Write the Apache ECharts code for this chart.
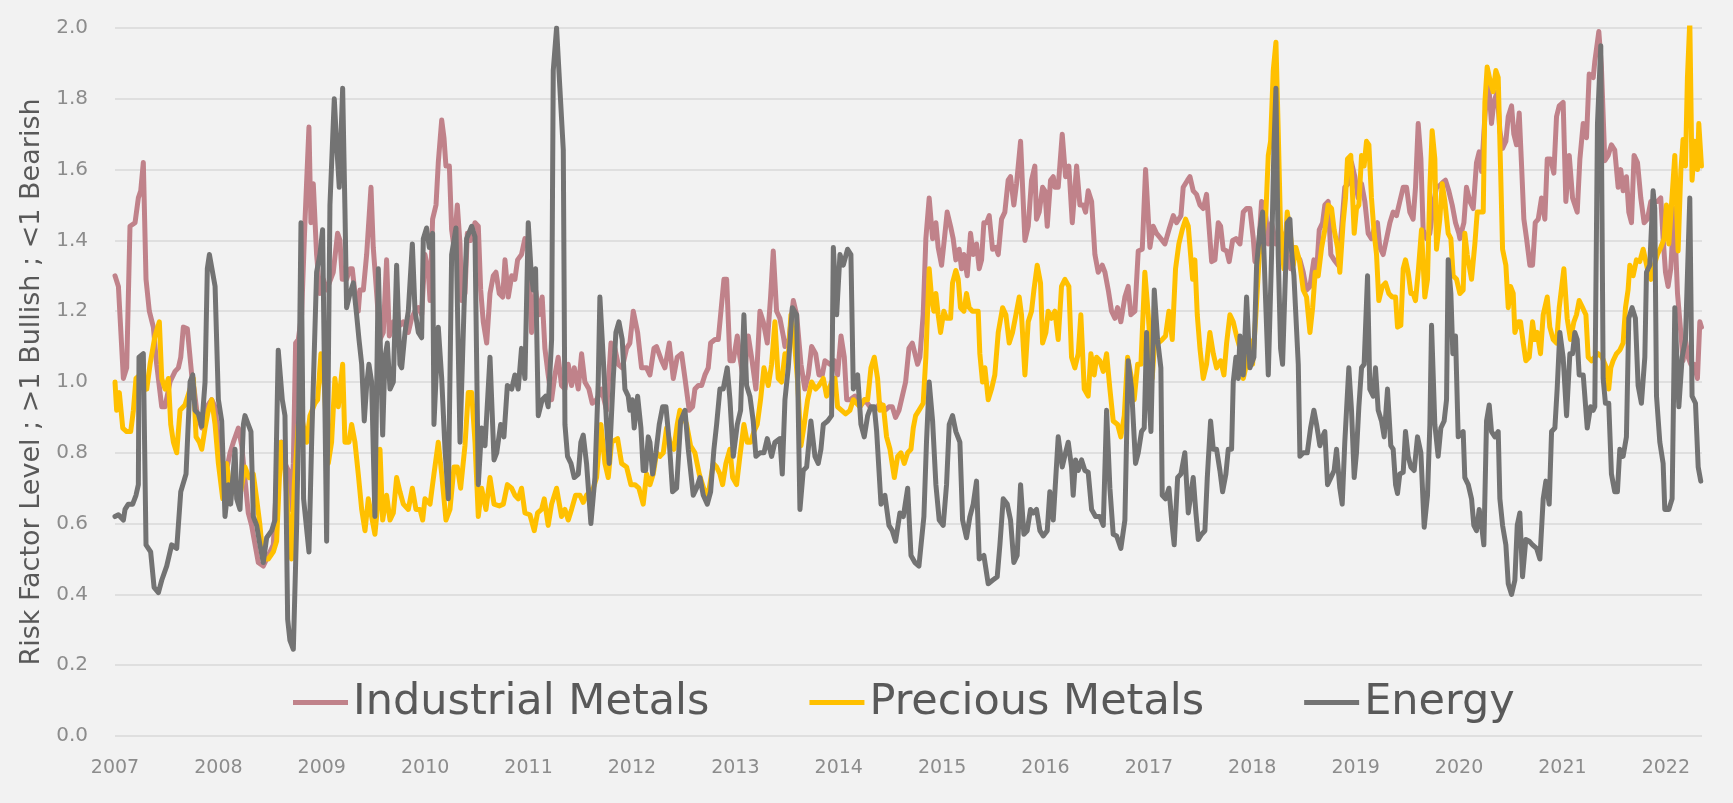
<!DOCTYPE html>
<html>
<head>
<meta charset="utf-8">
<script src="https://cdn.jsdelivr.net/npm/echarts@6/dist/echarts.min.js"></script>
<style>
  html, body { margin: 0; padding: 0; background: #f2f2f2; }
  #chart { width: 1733px; height: 803px; }
</style>
</head>
<body>
<div id="chart"></div>
<script>
// Weekly risk factor readings, [decimal year, level]
const industrialMetals = [
  [2007.000,1.30],[2007.033,1.27],[2007.081,1.01],[2007.113,1.04],[2007.145,1.44],[2007.194,1.45],[2007.226,1.52],[2007.249,1.54],[2007.274,1.62],[2007.300,1.29],[2007.332,1.20],[2007.371,1.155],[2007.403,1.05],[2007.452,0.93],[2007.484,0.93],[2007.532,1.00],[2007.581,1.03],[2007.613,1.04],[2007.636,1.07],[2007.661,1.155],[2007.700,1.15],[2007.742,1.02],[2007.765,0.98],[2007.797,0.905],[2007.839,0.87],[2007.887,0.93],[2007.935,0.95],[2007.968,0.93],[2008.016,0.79],[2008.064,0.73],[2008.113,0.80],[2008.145,0.83],[2008.193,0.87],[2008.226,0.82],
  [2008.289,0.63],[2008.321,0.595],[2008.386,0.49],[2008.434,0.48],[2008.483,0.51],[2008.531,0.54],[2008.579,0.81],[2008.612,0.83],[2008.644,0.77],[2008.676,0.75],[2008.699,0.64],[2008.725,0.77],[2008.747,1.11],[2008.773,1.12],[2008.805,1.19],[2008.837,1.45],[2008.876,1.72],[2008.895,1.45],[2008.918,1.56],[2008.950,1.36],[2008.982,1.25],[2009.015,1.29],[2009.047,1.26],[2009.111,1.31],[2009.153,1.42],[2009.176,1.40],[2009.198,1.29],[2009.240,1.29],[2009.273,1.32],[2009.295,1.32],[2009.321,1.25],[2009.353,1.20],[2009.369,1.26],[2009.402,1.26],[2009.434,1.36],[2009.476,1.55],[2009.498,1.38],[2009.521,1.29],
  [2009.563,1.12],[2009.595,1.14],[2009.627,1.345],[2009.653,1.13],[2009.692,1.17],[2009.740,1.155],[2009.789,1.17],[2009.837,1.14],[2009.869,1.18],[2009.902,1.20],[2009.934,1.21],[2009.966,1.19],[2009.998,1.36],[2010.031,1.31],[2010.047,1.23],[2010.072,1.46],[2010.105,1.50],[2010.127,1.62],[2010.160,1.74],[2010.182,1.69],[2010.201,1.61],[2010.234,1.61],[2010.256,1.43],[2010.279,1.38],[2010.311,1.50],[2010.337,1.39],[2010.353,1.23],[2010.385,1.25],[2010.408,1.42],[2010.440,1.40],[2010.482,1.45],[2010.514,1.44],[2010.537,1.26],[2010.562,1.17],[2010.595,1.11],[2010.627,1.25],[2010.659,1.30],[2010.685,1.31],[2010.717,1.25],[2010.750,1.24],[2010.772,1.345],[2010.804,1.24],[2010.837,1.30],
  [2010.868,1.29],[2010.894,1.345],[2010.932,1.36],[2010.965,1.405],[2010.997,1.38],[2011.029,1.14],[2011.068,1.26],[2011.100,1.19],[2011.132,1.24],[2011.158,1.095],[2011.190,1.02],[2011.223,0.95],[2011.255,1.02],[2011.287,1.07],[2011.319,0.99],[2011.352,0.98],[2011.384,1.05],[2011.416,0.99],[2011.442,1.04],[2011.481,0.98],[2011.513,1.08],[2011.545,1.00],[2011.584,0.98],[2011.616,0.94],[2011.658,0.95],[2011.706,0.98],[2011.755,0.92],[2011.797,1.11],[2011.835,1.095],[2011.867,1.05],[2011.906,1.04],[2011.948,1.095],[2011.980,1.11],[2012.013,1.20],[2012.055,1.14],[2012.093,1.04],[2012.142,1.04],
  [2012.174,1.02],[2012.213,1.095],[2012.238,1.10],[2012.287,1.06],[2012.319,1.04],[2012.361,1.11],[2012.400,1.01],[2012.438,1.07],[2012.480,1.08],[2012.513,1.01],[2012.554,0.92],[2012.587,0.93],[2012.609,0.98],[2012.642,0.99],[2012.674,0.99],[2012.706,1.02],[2012.738,1.04],[2012.761,1.11],[2012.803,1.12],[2012.835,1.12],[2012.861,1.20],[2012.890,1.29],[2012.916,1.29],[2012.948,1.06],[2012.980,1.06],[2013.019,1.13],[2013.044,1.07],[2013.083,1.00],[2013.125,1.13],[2013.157,1.07],[2013.199,0.98],[2013.238,1.20],[2013.270,1.17],[2013.309,1.11],[2013.341,1.24],[2013.367,1.37],[2013.399,1.20],[2013.431,1.18],[2013.464,1.13],
  [2013.480,1.10],[2013.519,1.12],[2013.561,1.23],[2013.593,1.19],[2013.635,1.05],[2013.673,0.98],[2013.706,1.02],[2013.738,1.10],[2013.777,1.08],[2013.809,1.02],[2013.841,1.02],[2013.867,1.06],[2013.915,1.05],[2013.957,1.06],[2013.989,1.02],[2014.022,1.13],[2014.054,1.07],[2014.077,0.95],[2014.109,0.95],[2014.157,0.96],[2014.205,0.93],[2014.254,0.95],[2014.302,0.93],[2014.350,0.92],[2014.399,0.94],[2014.447,0.92],[2014.486,0.93],[2014.518,0.93],[2014.550,0.90],[2014.583,0.92],[2014.615,0.96],[2014.647,1.00],[2014.679,1.095],[2014.712,1.11],[2014.763,1.05],
  [2014.785,1.07],[2014.817,1.19],[2014.843,1.405],[2014.875,1.52],[2014.908,1.405],[2014.940,1.45],[2014.962,1.38],[2014.995,1.33],[2015.017,1.39],[2015.049,1.48],[2015.082,1.44],[2015.107,1.405],[2015.133,1.345],[2015.165,1.375],[2015.188,1.32],[2015.211,1.36],[2015.243,1.30],[2015.275,1.42],[2015.301,1.36],[2015.333,1.39],[2015.359,1.32],[2015.382,1.345],[2015.404,1.45],[2015.430,1.45],[2015.456,1.47],[2015.488,1.375],[2015.520,1.38],[2015.543,1.36],[2015.575,1.46],[2015.607,1.48],[2015.639,1.57],[2015.662,1.58],[2015.694,1.50],[2015.720,1.56],[2015.759,1.68],[2015.801,1.40],[2015.833,1.44],[2015.865,1.57],[2015.897,1.61],[2015.913,1.46],[2015.939,1.48],[2015.972,1.55],[2015.994,1.54],[2016.017,1.44],[2016.049,1.57],[2016.075,1.58],
  [2016.091,1.55],[2016.123,1.55],[2016.162,1.70],[2016.194,1.58],[2016.226,1.61],[2016.259,1.45],[2016.301,1.61],[2016.333,1.50],[2016.365,1.50],[2016.388,1.48],[2016.413,1.54],[2016.446,1.51],[2016.478,1.36],[2016.510,1.31],[2016.549,1.33],[2016.575,1.31],[2016.607,1.26],[2016.639,1.20],[2016.671,1.18],[2016.697,1.21],[2016.729,1.17],[2016.768,1.24],[2016.800,1.27],[2016.826,1.19],[2016.865,1.20],[2016.897,1.37],[2016.936,1.375],[2016.968,1.60],[2017.010,1.38],[2017.042,1.44],[2017.074,1.42],[2017.116,1.405],[2017.155,1.39],[2017.194,1.43],[2017.236,1.47],[2017.268,1.45],[2017.310,1.47],[2017.332,1.55],[2017.374,1.57],
  [2017.397,1.58],[2017.429,1.54],[2017.461,1.53],[2017.494,1.50],[2017.526,1.49],[2017.558,1.53],[2017.584,1.43],[2017.607,1.34],[2017.639,1.345],[2017.671,1.45],[2017.694,1.44],[2017.719,1.375],[2017.752,1.37],[2017.777,1.34],[2017.810,1.40],[2017.842,1.405],[2017.881,1.39],[2017.913,1.48],[2017.945,1.49],[2017.977,1.49],[2018.010,1.405],[2018.026,1.34],[2018.058,1.36],[2018.090,1.51],[2018.122,1.50],[2018.155,1.39],[2018.187,1.45],[2018.229,1.39],[2018.268,1.43],[2018.306,1.405],[2018.338,1.36],[2018.371,1.32],[2018.403,1.38],[2018.429,1.36],[2018.461,1.345],[2018.493,1.31],[2018.525,1.26],[2018.558,1.27],[2018.596,1.345],[2018.622,1.31],[2018.648,1.43],[2018.680,1.45],
  [2018.702,1.50],[2018.734,1.51],[2018.760,1.36],[2018.792,1.345],[2018.831,1.33],[2018.863,1.43],[2018.895,1.55],[2018.928,1.56],[2018.960,1.62],[2018.992,1.58],[2019.024,1.52],[2019.057,1.56],[2019.089,1.51],[2019.121,1.42],[2019.153,1.405],[2019.186,1.44],[2019.211,1.45],[2019.234,1.38],[2019.266,1.36],[2019.299,1.405],[2019.331,1.45],[2019.363,1.48],[2019.395,1.47],[2019.427,1.51],[2019.460,1.55],[2019.492,1.55],[2019.524,1.48],[2019.556,1.46],[2019.579,1.55],[2019.605,1.73],[2019.631,1.63],[2019.653,1.43],[2019.685,1.405],[2019.718,1.42],[2019.750,1.50],[2019.782,1.55],[2019.814,1.555],[2019.847,1.565],[2019.869,1.57],[2019.901,1.54],[2019.934,1.50],[2019.966,1.45],[2019.998,1.42],
  [2020.008,1.405],[2020.047,1.45],[2020.072,1.55],[2020.105,1.51],[2020.137,1.49],[2020.169,1.62],[2020.195,1.65],[2020.218,1.595],[2020.250,1.75],[2020.282,1.86],[2020.314,1.73],[2020.337,1.79],[2020.369,1.82],[2020.395,1.71],[2020.421,1.66],[2020.453,1.68],[2020.476,1.75],[2020.508,1.78],[2020.530,1.70],[2020.556,1.67],[2020.582,1.76],[2020.605,1.61],[2020.627,1.46],[2020.653,1.405],[2020.685,1.33],[2020.711,1.33],[2020.737,1.45],[2020.766,1.46],[2020.798,1.52],[2020.830,1.46],[2020.853,1.63],[2020.885,1.63],[2020.917,1.59],[2020.943,1.75],[2020.969,1.78],[2021.007,1.79],[2021.033,1.51],[2021.066,1.64],[2021.098,1.52],[2021.143,1.48],[2021.169,1.63],[2021.201,1.73],[2021.233,1.69],[2021.259,1.87],[2021.298,1.86],
  [2021.313,1.905],[2021.352,1.99],[2021.377,1.89],[2021.410,1.625],[2021.442,1.64],[2021.474,1.67],[2021.506,1.655],[2021.539,1.55],[2021.564,1.60],[2021.587,1.54],[2021.619,1.58],[2021.642,1.48],[2021.668,1.45],[2021.693,1.64],[2021.726,1.62],[2021.758,1.52],[2021.790,1.45],[2021.822,1.46],[2021.855,1.51],[2021.887,1.51],[2021.919,1.51],[2021.951,1.52],[2021.974,1.405],[2021.997,1.31],[2022.022,1.27],[2022.048,1.32],[2022.080,1.49],[2022.113,1.25],[2022.145,1.14],[2022.167,1.06],[2022.190,1.12],[2022.216,1.07],[2022.242,1.05],[2022.274,1.05],[2022.306,1.01],[2022.329,1.17],[2022.345,1.155]
];

const preciousMetals = [
  [2007.000,1.00],[2007.016,0.92],[2007.042,0.97],[2007.075,0.87],[2007.113,0.86],[2007.152,0.86],[2007.178,0.92],[2007.203,1.01],[2007.242,1.02],[2007.307,0.98],[2007.339,1.05],[2007.387,1.13],[2007.429,1.17],[2007.452,1.01],[2007.484,0.98],[2007.516,1.01],[2007.539,0.88],[2007.565,0.83],[2007.597,0.80],[2007.629,0.92],[2007.677,0.935],[2007.726,0.98],[2007.758,1.01],[2007.784,0.845],[2007.816,0.83],[2007.839,0.81],[2007.871,0.87],[2007.903,0.92],[2007.935,0.95],[2007.968,0.88],[2008.000,0.77],[2008.042,0.67],[2008.080,0.77],[2008.119,0.68],[2008.161,0.73],[2008.209,0.68],
  [2008.257,0.76],[2008.296,0.73],[2008.338,0.74],[2008.370,0.67],[2008.402,0.595],[2008.434,0.50],[2008.483,0.50],[2008.531,0.52],[2008.563,0.55],[2008.579,0.655],[2008.605,0.83],[2008.644,0.75],[2008.676,0.62],[2008.708,0.50],[2008.734,0.71],[2008.773,0.88],[2008.812,0.89],[2008.854,0.83],[2008.886,0.905],[2008.934,0.94],[2008.960,0.95],[2008.992,1.08],[2009.024,0.99],[2009.063,0.77],[2009.095,0.83],[2009.127,1.01],[2009.160,0.93],[2009.202,1.05],[2009.224,0.83],[2009.263,0.83],[2009.289,0.88],[2009.321,0.83],[2009.353,0.74],[2009.386,0.64],[2009.418,0.58],[2009.450,0.67],[2009.482,0.62],[2009.514,0.57],[2009.547,0.67],
  [2009.563,0.81],[2009.589,0.61],[2009.627,0.68],[2009.660,0.61],[2009.692,0.63],[2009.724,0.73],[2009.756,0.69],[2009.789,0.655],[2009.837,0.64],[2009.876,0.70],[2009.911,0.64],[2009.950,0.64],[2009.976,0.61],[2009.998,0.67],[2010.047,0.655],[2010.085,0.74],[2010.127,0.83],[2010.160,0.74],[2010.201,0.61],[2010.240,0.64],[2010.279,0.76],[2010.311,0.76],[2010.343,0.70],[2010.385,0.82],[2010.417,0.97],[2010.450,0.97],[2010.482,0.83],[2010.514,0.62],[2010.546,0.70],[2010.588,0.64],[2010.627,0.73],[2010.666,0.655],[2010.717,0.65],[2010.756,0.655],[2010.795,0.71],[2010.837,0.70],
  [2010.868,0.68],[2010.900,0.67],[2010.932,0.70],[2010.965,0.63],[2011.013,0.625],[2011.055,0.58],[2011.087,0.63],[2011.126,0.64],[2011.152,0.67],[2011.190,0.595],[2011.223,0.655],[2011.271,0.70],[2011.319,0.62],[2011.352,0.64],[2011.384,0.61],[2011.416,0.64],[2011.455,0.68],[2011.497,0.68],[2011.529,0.66],[2011.561,0.68],[2011.626,0.70],[2011.658,0.73],[2011.700,0.88],[2011.739,0.77],[2011.771,0.73],[2011.803,0.83],[2011.861,0.84],[2011.900,0.77],[2011.948,0.76],[2011.990,0.71],[2012.029,0.71],[2012.067,0.70],[2012.109,0.655],[2012.142,0.74],
  [2012.174,0.71],[2012.206,0.74],[2012.238,0.80],[2012.271,0.79],[2012.303,0.80],[2012.335,0.87],[2012.367,0.83],[2012.406,0.81],[2012.438,0.88],[2012.464,0.92],[2012.496,0.905],[2012.529,0.88],[2012.567,0.82],[2012.609,0.80],[2012.651,0.74],[2012.683,0.71],[2012.716,0.68],[2012.748,0.70],[2012.787,0.77],[2012.819,0.76],[2012.851,0.74],[2012.877,0.71],[2012.909,0.77],[2012.948,0.81],[2012.974,0.73],[2013.012,0.71],[2013.044,0.79],[2013.083,0.88],[2013.115,0.83],[2013.148,0.83],[2013.180,0.86],[2013.212,0.88],[2013.244,0.95],[2013.277,1.04],[2013.319,0.99],[2013.351,1.05],[2013.383,1.17],[2013.415,1.01],[2013.448,1.00],
  [2013.480,1.08],[2013.512,1.07],[2013.538,1.19],[2013.570,1.12],[2013.603,1.00],[2013.635,0.82],[2013.667,0.88],[2013.699,0.95],[2013.738,1.00],[2013.777,0.98],[2013.809,0.99],[2013.851,1.01],[2013.883,0.96],[2013.931,1.00],[2013.964,1.01],[2013.989,0.93],[2014.028,0.92],[2014.067,0.91],[2014.109,0.92],[2014.141,0.95],[2014.173,0.94],[2014.205,0.93],[2014.247,0.95],[2014.280,0.95],[2014.312,1.04],[2014.344,1.07],[2014.376,1.01],[2014.399,0.92],[2014.431,0.935],[2014.463,0.845],[2014.496,0.81],[2014.538,0.73],[2014.570,0.79],[2014.602,0.80],[2014.634,0.77],[2014.667,0.80],[2014.699,0.81],[2014.721,0.87],[2014.744,0.905],[2014.776,0.92],
  [2014.785,0.92],[2014.817,0.94],[2014.843,1.07],[2014.875,1.32],[2014.898,1.24],[2014.920,1.20],[2014.940,1.25],[2014.962,1.19],[2014.985,1.14],[2015.017,1.20],[2015.043,1.18],[2015.082,1.18],[2015.101,1.28],[2015.133,1.315],[2015.156,1.29],[2015.178,1.21],[2015.211,1.20],[2015.236,1.25],[2015.262,1.21],[2015.294,1.20],[2015.349,1.20],[2015.365,1.08],[2015.391,1.00],[2015.414,1.04],[2015.446,0.95],[2015.478,0.98],[2015.510,1.02],[2015.543,1.14],[2015.585,1.21],[2015.617,1.19],[2015.649,1.11],[2015.681,1.14],[2015.714,1.19],[2015.746,1.24],[2015.768,1.19],[2015.801,1.02],[2015.833,1.17],[2015.865,1.20],[2015.888,1.26],[2015.920,1.33],[2015.952,1.28],[2015.972,1.11],[2016.004,1.14],[2016.026,1.20],[2016.058,1.18],
  [2016.091,1.20],[2016.123,1.12],[2016.155,1.27],[2016.188,1.29],[2016.226,1.27],[2016.252,1.07],[2016.284,1.04],[2016.317,1.08],[2016.342,1.19],[2016.375,0.98],[2016.413,0.96],[2016.439,1.08],[2016.471,1.02],[2016.494,1.07],[2016.526,1.06],[2016.559,1.03],[2016.591,1.08],[2016.623,0.98],[2016.655,0.89],[2016.697,0.88],[2016.729,0.845],[2016.762,0.905],[2016.794,1.07],[2016.826,1.02],[2016.858,0.95],[2016.891,1.05],[2016.923,1.05],[2016.961,1.31],[2016.994,1.19],[2017.032,1.01],[2017.058,1.12],[2017.090,1.11],[2017.129,1.12],[2017.161,1.13],[2017.194,1.20],[2017.226,1.12],[2017.258,1.32],[2017.290,1.39],[2017.323,1.43],[2017.355,1.46],[2017.381,1.44],
  [2017.423,1.29],[2017.445,1.345],[2017.468,1.19],[2017.494,1.095],[2017.526,1.01],[2017.558,1.05],[2017.590,1.14],[2017.623,1.08],[2017.655,1.04],[2017.694,1.06],[2017.726,1.02],[2017.752,1.11],[2017.784,1.19],[2017.816,1.17],[2017.848,1.13],[2017.881,1.095],[2017.913,1.01],[2017.945,1.05],[2017.971,1.12],[2018.003,1.05],[2018.035,1.19],[2018.068,1.36],[2018.100,1.405],[2018.132,1.48],[2018.155,1.64],[2018.177,1.68],[2018.203,1.88],[2018.229,1.96],[2018.251,1.71],[2018.274,1.43],[2018.306,1.32],[2018.338,1.48],[2018.364,1.43],[2018.397,1.33],[2018.422,1.38],[2018.455,1.345],[2018.493,1.26],[2018.525,1.24],[2018.558,1.14],[2018.584,1.21],[2018.609,1.31],[2018.638,1.30],[2018.671,1.38],
  [2018.702,1.43],[2018.734,1.50],[2018.767,1.49],[2018.792,1.43],[2018.825,1.38],[2018.847,1.31],[2018.879,1.45],[2018.902,1.52],[2018.921,1.63],[2018.953,1.64],[2018.986,1.42],[2019.008,1.49],[2019.031,1.50],[2019.057,1.64],[2019.082,1.61],[2019.105,1.68],[2019.128,1.67],[2019.153,1.52],[2019.179,1.42],[2019.202,1.36],[2019.224,1.23],[2019.257,1.27],[2019.289,1.28],[2019.321,1.25],[2019.353,1.24],[2019.386,1.24],[2019.405,1.155],[2019.437,1.16],[2019.460,1.32],[2019.482,1.345],[2019.508,1.31],[2019.534,1.25],[2019.556,1.25],[2019.579,1.23],[2019.605,1.31],[2019.637,1.43],[2019.669,1.24],[2019.695,1.29],[2019.718,1.55],[2019.740,1.71],[2019.766,1.63],[2019.782,1.375],[2019.814,1.46],[2019.837,1.56],[2019.863,1.51],[2019.895,1.42],[2019.921,1.405],[2019.943,1.30],[2019.976,1.29],
  [2020.008,1.25],[2020.040,1.26],[2020.056,1.42],[2020.079,1.36],[2020.121,1.29],[2020.153,1.39],[2020.176,1.48],[2020.234,1.48],[2020.250,1.79],[2020.272,1.89],[2020.305,1.845],[2020.330,1.82],[2020.356,1.88],[2020.379,1.86],[2020.401,1.61],[2020.421,1.375],[2020.453,1.33],[2020.476,1.21],[2020.498,1.27],[2020.524,1.25],[2020.540,1.14],[2020.572,1.17],[2020.595,1.17],[2020.621,1.11],[2020.646,1.06],[2020.679,1.07],[2020.711,1.17],[2020.733,1.12],[2020.756,1.14],[2020.788,1.08],[2020.814,1.19],[2020.853,1.24],[2020.878,1.155],[2020.911,1.12],[2020.943,1.11],[2020.969,1.21],[2021.014,1.32],[2021.046,1.18],[2021.078,1.12],[2021.111,1.17],[2021.136,1.19],[2021.162,1.23],[2021.195,1.21],[2021.227,1.19],[2021.249,1.07],[2021.282,1.06],
  [2021.313,1.07],[2021.345,1.08],[2021.384,1.07],[2021.426,1.04],[2021.448,0.98],[2021.468,1.04],[2021.490,1.06],[2021.523,1.08],[2021.555,1.09],[2021.587,1.11],[2021.610,1.21],[2021.635,1.26],[2021.652,1.33],[2021.684,1.30],[2021.716,1.345],[2021.748,1.34],[2021.781,1.375],[2021.797,1.38],[2021.822,1.32],[2021.855,1.29],[2021.887,1.33],[2021.919,1.36],[2021.951,1.38],[2021.984,1.405],[2022.006,1.50],[2022.029,1.39],[2022.055,1.50],[2022.087,1.64],[2022.119,1.37],[2022.145,1.595],[2022.167,1.685],[2022.190,1.61],[2022.209,1.86],[2022.232,2.02],[2022.254,1.57],[2022.280,1.68],[2022.306,1.60],[2022.319,1.73],[2022.345,1.61]
];

const energy = [
  [2007.000,0.62],[2007.033,0.625],[2007.081,0.61],[2007.097,0.64],[2007.129,0.655],[2007.171,0.655],[2007.203,0.68],[2007.226,0.71],[2007.232,1.07],[2007.274,1.08],[2007.300,0.54],[2007.345,0.52],[2007.378,0.42],[2007.420,0.405],[2007.452,0.44],[2007.500,0.48],[2007.548,0.54],[2007.597,0.53],[2007.636,0.69],[2007.687,0.74],[2007.726,1.00],[2007.752,1.02],[2007.774,0.92],[2007.806,0.91],[2007.839,0.875],[2007.871,1.00],[2007.893,1.32],[2007.913,1.36],[2007.968,1.27],[2008.000,0.95],[2008.032,0.89],[2008.064,0.62],[2008.097,0.71],[2008.119,0.655],[2008.161,0.81],[2008.177,0.67],[2008.209,0.64],[2008.242,0.88],
  [2008.257,0.905],[2008.315,0.86],[2008.338,0.62],[2008.370,0.595],[2008.402,0.54],[2008.434,0.49],[2008.467,0.56],[2008.515,0.58],[2008.547,0.61],[2008.579,1.09],[2008.618,0.95],[2008.644,0.905],[2008.670,0.33],[2008.692,0.27],[2008.725,0.245],[2008.757,0.595],[2008.779,0.95],[2008.799,1.45],[2008.824,0.67],[2008.876,0.52],[2008.902,0.83],[2008.950,1.31],[2008.982,1.36],[2009.008,1.43],[2009.047,0.55],[2009.079,1.50],[2009.121,1.80],[2009.144,1.67],[2009.169,1.55],[2009.202,1.83],[2009.224,1.49],[2009.240,1.21],[2009.273,1.25],[2009.305,1.28],[2009.337,1.19],[2009.360,1.12],[2009.386,1.05],[2009.411,0.89],[2009.434,0.99],[2009.456,1.05],[2009.482,1.00],[2009.514,0.62],[2009.547,1.32],
  [2009.589,0.85],[2009.611,1.07],[2009.634,1.11],[2009.660,0.98],[2009.692,1.00],[2009.724,1.33],[2009.756,1.05],[2009.773,1.04],[2009.805,1.14],[2009.837,1.20],[2009.876,1.39],[2009.902,1.20],[2009.934,1.14],[2009.966,1.125],[2009.982,1.405],[2010.014,1.435],[2010.040,1.38],[2010.072,1.42],[2010.085,0.88],[2010.127,1.155],[2010.160,1.01],[2010.192,0.81],[2010.224,0.67],[2010.256,1.36],[2010.298,1.435],[2010.337,0.83],[2010.376,1.21],[2010.401,1.405],[2010.450,1.44],[2010.482,1.41],[2010.514,0.71],[2010.546,0.87],[2010.579,0.82],[2010.627,1.07],[2010.666,0.78],[2010.692,0.80],[2010.730,0.88],[2010.762,0.845],[2010.795,0.99],[2010.837,0.98],
  [2010.868,1.02],[2010.900,0.98],[2010.932,1.095],[2010.965,1.01],[2010.997,1.45],[2011.023,1.32],[2011.045,1.26],[2011.068,1.32],[2011.094,0.905],[2011.132,0.95],[2011.165,0.96],[2011.190,0.93],[2011.223,1.12],[2011.239,1.88],[2011.271,2.00],[2011.303,1.83],[2011.336,1.655],[2011.352,0.88],[2011.377,0.79],[2011.410,0.77],[2011.442,0.73],[2011.481,0.74],[2011.506,0.83],[2011.529,0.85],[2011.561,0.77],[2011.603,0.60],[2011.642,0.73],[2011.674,1.00],[2011.690,1.24],[2011.722,1.07],[2011.755,0.88],[2011.780,0.77],[2011.819,1.01],[2011.845,1.14],[2011.874,1.17],[2011.906,1.12],[2011.932,0.98],[2011.964,0.96],[2011.980,0.92],[2012.003,0.95],[2012.022,0.87],[2012.055,0.96],[2012.087,0.87],[2012.109,0.75],[2012.132,0.75],[2012.158,0.845],
  [2012.174,0.83],[2012.200,0.74],[2012.232,0.80],[2012.264,0.88],[2012.297,0.93],[2012.329,0.93],[2012.361,0.83],[2012.393,0.69],[2012.432,0.70],[2012.471,0.89],[2012.513,0.92],[2012.545,0.81],[2012.593,0.68],[2012.625,0.70],[2012.658,0.73],[2012.690,0.68],[2012.729,0.655],[2012.761,0.69],[2012.793,0.81],[2012.819,0.88],[2012.851,0.98],[2012.883,0.98],[2012.922,1.04],[2012.948,0.95],[2012.980,0.79],[2013.019,0.88],[2013.051,0.92],[2013.083,1.19],[2013.109,0.99],[2013.141,0.96],[2013.173,0.89],[2013.199,0.79],[2013.238,0.80],[2013.277,0.80],[2013.309,0.84],[2013.351,0.79],[2013.383,0.83],[2013.431,0.84],[2013.454,0.74],
  [2013.480,0.95],[2013.512,1.04],[2013.551,1.21],[2013.593,1.19],[2013.625,0.64],[2013.657,0.75],[2013.690,0.76],[2013.731,0.89],[2013.770,0.79],[2013.802,0.77],[2013.828,0.81],[2013.851,0.88],[2013.893,0.89],[2013.931,0.905],[2013.948,1.38],[2013.980,1.19],[2014.012,1.36],[2014.044,1.33],[2014.086,1.375],[2014.118,1.36],[2014.141,0.98],[2014.183,1.02],[2014.215,0.88],[2014.247,0.845],[2014.280,0.905],[2014.312,0.93],[2014.344,0.93],[2014.367,0.86],[2014.409,0.655],[2014.447,0.68],[2014.486,0.595],[2014.518,0.58],[2014.550,0.55],[2014.592,0.63],[2014.625,0.62],[2014.667,0.70],[2014.699,0.51],[2014.737,0.49],[2014.776,0.48],
  [2014.824,0.62],[2014.849,0.83],[2014.875,1.00],[2014.908,0.89],[2014.940,0.71],[2014.972,0.61],[2015.011,0.595],[2015.043,0.71],[2015.069,0.88],[2015.101,0.905],[2015.133,0.86],[2015.172,0.83],[2015.198,0.61],[2015.236,0.56],[2015.269,0.62],[2015.301,0.655],[2015.333,0.72],[2015.359,0.50],[2015.404,0.51],[2015.446,0.43],[2015.488,0.44],[2015.533,0.45],[2015.559,0.54],[2015.591,0.67],[2015.630,0.655],[2015.662,0.61],[2015.694,0.49],[2015.726,0.51],[2015.759,0.71],[2015.791,0.57],[2015.823,0.58],[2015.855,0.64],[2015.881,0.63],[2015.913,0.64],[2015.946,0.58],[2015.978,0.565],[2016.017,0.58],[2016.042,0.69],[2016.075,0.61],
  [2016.123,0.845],[2016.162,0.76],[2016.194,0.80],[2016.220,0.83],[2016.252,0.76],[2016.268,0.68],[2016.291,0.78],[2016.317,0.75],[2016.349,0.78],[2016.381,0.75],[2016.413,0.745],[2016.446,0.64],[2016.484,0.62],[2016.526,0.62],[2016.559,0.595],[2016.591,0.92],[2016.623,0.70],[2016.655,0.57],[2016.688,0.565],[2016.729,0.53],[2016.768,0.61],[2016.800,1.06],[2016.833,0.98],[2016.871,0.77],[2016.897,0.80],[2016.929,0.86],[2016.955,0.87],[2016.978,1.14],[2016.994,0.99],[2017.020,0.86],[2017.052,1.26],[2017.084,1.12],[2017.116,1.04],[2017.129,0.68],[2017.161,0.67],[2017.194,0.70],[2017.220,0.61],[2017.245,0.54],[2017.278,0.73],[2017.310,0.74],[2017.348,0.80],[2017.381,0.63],
  [2017.429,0.73],[2017.455,0.63],[2017.478,0.555],[2017.510,0.57],[2017.542,0.58],[2017.565,0.73],[2017.597,0.89],[2017.623,0.81],[2017.655,0.81],[2017.687,0.75],[2017.713,0.69],[2017.745,0.74],[2017.768,0.81],[2017.800,0.81],[2017.816,1.00],[2017.842,1.07],[2017.865,1.01],[2017.881,1.13],[2017.913,1.02],[2017.945,1.24],[2017.977,1.04],[2018.016,1.07],[2018.042,1.33],[2018.074,1.43],[2018.100,1.48],[2018.122,1.29],[2018.155,1.02],[2018.187,1.36],[2018.210,1.67],[2018.229,1.83],[2018.251,1.36],[2018.274,1.095],[2018.293,1.05],[2018.316,1.26],[2018.338,1.45],[2018.364,1.46],[2018.380,1.37],[2018.403,1.30],[2018.422,1.30],[2018.445,1.05],[2018.461,0.79],[2018.493,0.80],[2018.532,0.80],[2018.564,0.87],[2018.596,0.92],[2018.622,0.88],[2018.654,0.82],[2018.687,0.85],
  [2018.702,0.86],[2018.728,0.71],[2018.760,0.73],[2018.792,0.75],[2018.815,0.81],[2018.847,0.70],[2018.870,0.655],[2018.895,0.83],[2018.934,1.04],[2018.960,0.92],[2018.986,0.73],[2019.008,0.80],[2019.031,0.93],[2019.057,1.04],[2019.082,1.05],[2019.115,1.30],[2019.137,0.98],[2019.170,0.96],[2019.192,1.04],[2019.218,0.92],[2019.250,0.89],[2019.276,0.845],[2019.308,0.98],[2019.340,0.82],[2019.363,0.81],[2019.386,0.71],[2019.405,0.685],[2019.427,0.74],[2019.460,0.745],[2019.482,0.86],[2019.508,0.79],[2019.534,0.76],[2019.566,0.75],[2019.598,0.845],[2019.631,0.80],[2019.663,0.59],[2019.695,0.68],[2019.718,0.88],[2019.734,1.16],[2019.766,0.88],[2019.798,0.79],[2019.824,0.87],[2019.856,0.89],[2019.879,0.95],[2019.895,1.345],[2019.921,1.25],[2019.940,1.08],[2019.966,1.13],[2019.992,0.845],
  [2020.040,0.86],[2020.056,0.73],[2020.089,0.71],[2020.121,0.67],[2020.143,0.595],[2020.169,0.58],[2020.195,0.64],[2020.218,0.595],[2020.240,0.54],[2020.266,0.89],[2020.292,0.935],[2020.314,0.86],[2020.347,0.845],[2020.379,0.86],[2020.395,0.67],[2020.421,0.595],[2020.453,0.54],[2020.476,0.43],[2020.508,0.40],[2020.540,0.44],[2020.563,0.595],[2020.588,0.63],[2020.614,0.45],[2020.646,0.555],[2020.679,0.55],[2020.711,0.54],[2020.750,0.53],[2020.782,0.50],[2020.814,0.67],[2020.840,0.72],[2020.872,0.655],[2020.895,0.86],[2020.927,0.87],[2020.949,0.98],[2020.975,1.14],[2021.007,1.07],[2021.040,0.905],[2021.072,1.08],[2021.098,1.08],[2021.120,1.14],[2021.143,1.12],[2021.162,1.02],[2021.201,1.02],[2021.240,0.87],[2021.272,0.93],[2021.298,0.92],
  [2021.313,0.93],[2021.339,1.73],[2021.371,1.95],[2021.394,1.01],[2021.416,0.94],[2021.448,0.94],[2021.474,0.74],[2021.506,0.69],[2021.532,0.69],[2021.555,0.81],[2021.587,0.79],[2021.619,0.845],[2021.642,1.18],[2021.674,1.21],[2021.706,1.18],[2021.732,0.99],[2021.764,0.94],[2021.797,1.07],[2021.813,1.31],[2021.845,1.33],[2021.877,1.54],[2021.893,1.49],[2021.910,0.96],[2021.942,0.83],[2021.974,0.77],[2021.990,0.64],[2022.029,0.64],[2022.061,0.67],[2022.087,1.21],[2022.126,0.93],[2022.158,1.07],[2022.190,1.12],[2022.232,1.52],[2022.254,0.96],[2022.287,0.94],[2022.313,0.76],[2022.338,0.72]
];

const seriesNames = ['Industrial Metals', 'Precious Metals', 'Energy'];
const seriesColors = ['#c0828a', '#ffc000', '#737373'];
const yTitle = 'Risk Factor Level ; >1 Bullish ; <1 Bearish';
const xStart = 2007;
const xEnd = 2022.35;

const FONT = 'DejaVu Sans';
const chart = echarts.init(document.getElementById('chart'), null, { renderer: 'canvas' });

const makeLine = (name, data, color) => ({
  name,
  type: 'line',
  data,
  showSymbol: false,
  symbol: 'none',
  clip: true,
  lineStyle: { color, width: 5, cap: 'round', join: 'round' },
  itemStyle: { color },
  emphasis: { disabled: true }
});

chart.setOption({
  animation: false,
  backgroundColor: '#f2f2f2',
  grid: { left: 115, right: 31, top: 28, bottom: 67 },
  legend: {
    left: 293,
    top: 681,
    padding: 0,
    icon: 'rect',
    itemWidth: 55,
    itemHeight: 5,
    itemGap: 100,
    textStyle: { fontFamily: FONT, fontSize: 43, color: '#595959' },
    data: seriesNames
  },
  xAxis: {
    type: 'value',
    min: xStart,
    max: xEnd,
    interval: 1,
    axisLine: { show: false },
    axisTick: { show: false },
    splitLine: { show: false },
    axisLabel: {
      fontFamily: FONT,
      fontSize: 19,
      color: '#8c8c8c',
      margin: 23,
      showMaxLabel: false,
      formatter: v => (Math.abs(v - Math.round(v)) < 1e-6 ? String(Math.round(v)) : '')
    }
  },
  yAxis: {
    type: 'value',
    min: 0,
    max: 2,
    interval: 0.2,
    name: yTitle,
    nameLocation: 'middle',
    nameGap: 66,
    nameTextStyle: { fontFamily: FONT, fontSize: 27, color: '#595959' },
    axisLine: { show: false },
    axisTick: { show: false },
    axisLabel: {
      fontFamily: FONT,
      fontSize: 20,
      color: '#8c8c8c',
      margin: 27,
      formatter: v => v.toFixed(1)
    },
    splitLine: { lineStyle: { color: '#d9d9d9', width: 1.5 } }
  },
  series: [
    makeLine(seriesNames[0], industrialMetals, seriesColors[0]),
    makeLine(seriesNames[1], preciousMetals, seriesColors[1]),
    makeLine(seriesNames[2], energy, seriesColors[2])
  ]
});
</script>
</body>
</html>
